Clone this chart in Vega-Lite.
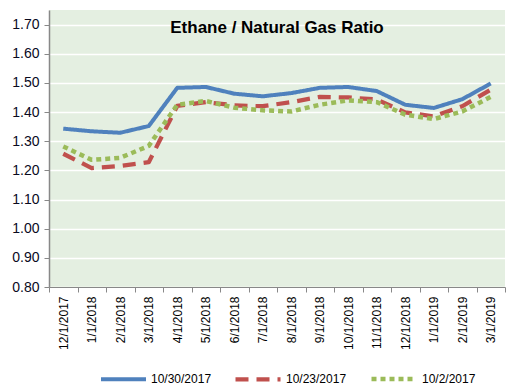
{
  "$schema": "https://vega.github.io/schema/vega-lite/v6.json",
  "width": 456,
  "height": 277,
  "autosize": {"type": "none"},
  "padding": {"left": 49, "top": 10, "right": 7, "bottom": 104},
  "background": "white",
  "title": {
    "text": "Ethane / Natural Gas Ratio",
    "anchor": "middle",
    "frame": "group",
    "offset": -27,
    "font": "Liberation Sans",
    "fontSize": 17,
    "fontWeight": "bold",
    "color": "#000000"
  },
  "config": {
    "view": {"fill": "#E4EFE1", "stroke": null},
    "font": "Liberation Sans"
  },
  "data": {
    "values": [
      {"month": "12/1/2017", "series": "10/30/2017", "ratio": 1.343},
      {"month": "1/1/2018", "series": "10/30/2017", "ratio": 1.334},
      {"month": "2/1/2018", "series": "10/30/2017", "ratio": 1.329},
      {"month": "3/1/2018", "series": "10/30/2017", "ratio": 1.352},
      {"month": "4/1/2018", "series": "10/30/2017", "ratio": 1.483},
      {"month": "5/1/2018", "series": "10/30/2017", "ratio": 1.486},
      {"month": "6/1/2018", "series": "10/30/2017", "ratio": 1.463},
      {"month": "7/1/2018", "series": "10/30/2017", "ratio": 1.454},
      {"month": "8/1/2018", "series": "10/30/2017", "ratio": 1.465},
      {"month": "9/1/2018", "series": "10/30/2017", "ratio": 1.483},
      {"month": "10/1/2018", "series": "10/30/2017", "ratio": 1.486},
      {"month": "11/1/2018", "series": "10/30/2017", "ratio": 1.472},
      {"month": "12/1/2018", "series": "10/30/2017", "ratio": 1.425},
      {"month": "1/1/2019", "series": "10/30/2017", "ratio": 1.414},
      {"month": "2/1/2019", "series": "10/30/2017", "ratio": 1.444},
      {"month": "3/1/2019", "series": "10/30/2017", "ratio": 1.498},
      {"month": "12/1/2017", "series": "10/23/2017", "ratio": 1.257},
      {"month": "1/1/2018", "series": "10/23/2017", "ratio": 1.208},
      {"month": "2/1/2018", "series": "10/23/2017", "ratio": 1.215},
      {"month": "3/1/2018", "series": "10/23/2017", "ratio": 1.228},
      {"month": "4/1/2018", "series": "10/23/2017", "ratio": 1.421},
      {"month": "5/1/2018", "series": "10/23/2017", "ratio": 1.434},
      {"month": "6/1/2018", "series": "10/23/2017", "ratio": 1.423},
      {"month": "7/1/2018", "series": "10/23/2017", "ratio": 1.420},
      {"month": "8/1/2018", "series": "10/23/2017", "ratio": 1.434},
      {"month": "9/1/2018", "series": "10/23/2017", "ratio": 1.452},
      {"month": "10/1/2018", "series": "10/23/2017", "ratio": 1.450},
      {"month": "11/1/2018", "series": "10/23/2017", "ratio": 1.443},
      {"month": "12/1/2018", "series": "10/23/2017", "ratio": 1.399},
      {"month": "1/1/2019", "series": "10/23/2017", "ratio": 1.385},
      {"month": "2/1/2019", "series": "10/23/2017", "ratio": 1.420},
      {"month": "3/1/2019", "series": "10/23/2017", "ratio": 1.477},
      {"month": "12/1/2017", "series": "10/2/2017", "ratio": 1.282},
      {"month": "1/1/2018", "series": "10/2/2017", "ratio": 1.236},
      {"month": "2/1/2018", "series": "10/2/2017", "ratio": 1.243},
      {"month": "3/1/2018", "series": "10/2/2017", "ratio": 1.284},
      {"month": "4/1/2018", "series": "10/2/2017", "ratio": 1.425},
      {"month": "5/1/2018", "series": "10/2/2017", "ratio": 1.438},
      {"month": "6/1/2018", "series": "10/2/2017", "ratio": 1.415},
      {"month": "7/1/2018", "series": "10/2/2017", "ratio": 1.406},
      {"month": "8/1/2018", "series": "10/2/2017", "ratio": 1.402},
      {"month": "9/1/2018", "series": "10/2/2017", "ratio": 1.425},
      {"month": "10/1/2018", "series": "10/2/2017", "ratio": 1.440},
      {"month": "11/1/2018", "series": "10/2/2017", "ratio": 1.434},
      {"month": "12/1/2018", "series": "10/2/2017", "ratio": 1.391},
      {"month": "1/1/2019", "series": "10/2/2017", "ratio": 1.376},
      {"month": "2/1/2019", "series": "10/2/2017", "ratio": 1.402},
      {"month": "3/1/2019", "series": "10/2/2017", "ratio": 1.452}
    ]
  },
  "mark": {"type": "line", "strokeCap": "butt", "strokeJoin": "round"},
  "encoding": {
    "x": {
      "field": "month",
      "type": "ordinal",
      "sort": null,
      "scale": {"type": "band", "paddingInner": 0, "paddingOuter": 0},
      "axis": {
        "title": null,
        "labelAngle": -90,
        "labelFontSize": 12,
        "labelColor": "#000000",
        "labelPadding": 4,
        "tickBand": "extent",
        "tickSize": 5,
        "tickColor": "#888888",
        "domainColor": "#888888",
        "grid": false
      }
    },
    "y": {
      "field": "ratio",
      "type": "quantitative",
      "scale": {"domain": [0.8, 1.75], "nice": false, "zero": false},
      "axis": {
        "title": null,
        "values": [0.8, 0.9, 1.0, 1.1, 1.2, 1.3, 1.4, 1.5, 1.6, 1.7],
        "format": ".2f",
        "labelFontSize": 14,
        "labelColor": "#0A0A1E",
        "labelPadding": 5,
        "tickSize": 5,
        "tickColor": "#888888",
        "domainColor": "#888888",
        "domainWidth": 1.5,
        "gridColor": "#FFFFFF",
        "gridWidth": 1.5,
        "gridOpacity": 1
      }
    },
    "color": {
      "field": "series",
      "type": "nominal",
      "sort": ["10/30/2017", "10/23/2017", "10/2/2017"],
      "scale": {
        "domain": ["10/30/2017", "10/23/2017", "10/2/2017"],
        "range": ["#4F81BD", "#C0504D", "#9BBB59"]
      },
      "legend": {
        "title": null,
        "orient": "none",
        "direction": "horizontal",
        "legendX": 50,
        "legendY": 344,
        "symbolType": "stroke",
        "symbolSize": 2025,
        "labelFontSize": 12,
        "labelColor": "#000000",
        "labelOffset": 3,
        "columnPadding": 15
      }
    },
    "strokeDash": {
      "field": "series",
      "type": "nominal",
      "sort": ["10/30/2017", "10/23/2017", "10/2/2017"],
      "scale": {
        "domain": ["10/30/2017", "10/23/2017", "10/2/2017"],
        "range": [[1, 0], [13, 8], [5, 4]]
      },
      "legend": null
    },
    "strokeWidth": {
      "field": "series",
      "type": "nominal",
      "scale": {
        "domain": ["10/30/2017", "10/23/2017", "10/2/2017"],
        "range": [4, 4.5, 2.5]
      },
      "legend": null
    }
  }
}
